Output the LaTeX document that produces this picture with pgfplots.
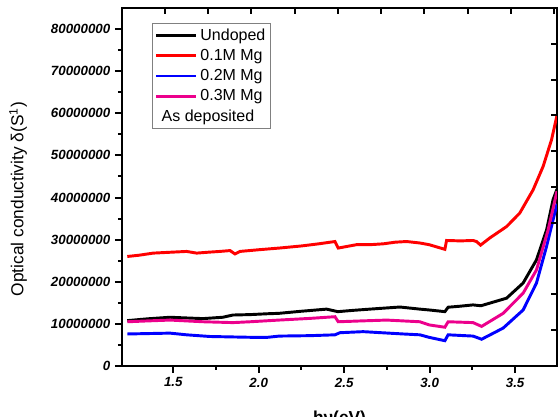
\documentclass[border=0pt]{standalone}
\usepackage{fontspec}
\setmainfont{Liberation Sans}
\usepackage{pgfplots}
\pgfplotsset{compat=1.18}

\pgfplotstableread{
x y
1.231 2.60e7
1.300 2.63e7
1.383 2.68e7
1.480 2.70e7
1.578 2.72e7
1.637 2.68e7
1.700 2.70e7
1.773 2.72e7
1.832 2.74e7
1.861 2.66e7
1.890 2.72e7
2.000 2.76e7
2.120 2.80e7
2.250 2.85e7
2.350 2.90e7
2.446 2.955e7
2.465 2.80e7
2.572 2.88e7
2.650 2.88e7
2.728 2.90e7
2.800 2.94e7
2.865 2.955e7
2.943 2.92e7
2.997 2.88e7
3.089 2.77e7
3.099 2.98e7
3.180 2.97e7
3.254 2.98e7
3.274 2.955e7
3.298 2.87e7
3.352 3.04e7
3.450 3.31e7
3.527 3.63e7
3.605 4.18e7
3.664 4.74e7
3.713 5.37e7
3.745 5.95e7
}\redtab

\pgfplotstableread{
x y
1.231 1.077e7
1.350 1.12e7
1.481 1.157e7
1.580 1.14e7
1.674 1.125e7
1.790 1.157e7
1.849 1.21e7
1.950 1.22e7
2.050 1.24e7
2.118 1.25e7
2.250 1.30e7
2.397 1.35e7
2.463 1.29e7
2.550 1.32e7
2.650 1.35e7
2.826 1.40e7
2.943 1.35e7
2.997 1.33e7
3.089 1.29e7
3.108 1.395e7
3.180 1.42e7
3.254 1.45e7
3.300 1.43e7
3.450 1.61e7
3.547 1.97e7
3.625 2.52e7
3.684 3.23e7
3.722 3.95e7
3.745 4.20e7
}\blacktab

\pgfplotstableread{
x y
1.231 1.05e7
1.350 1.07e7
1.481 1.09e7
1.674 1.05e7
1.849 1.03e7
1.950 1.05e7
2.118 1.09e7
2.300 1.13e7
2.446 1.17e7
2.465 1.05e7
2.600 1.07e7
2.748 1.09e7
2.943 1.05e7
2.997 0.975e7
3.089 0.92e7
3.108 1.05e7
3.254 1.03e7
3.304 0.94e7
3.430 1.25e7
3.547 1.73e7
3.625 2.28e7
3.693 3.23e7
3.745 4.15e7
}\magtab

\pgfplotstableread{
x y
1.231 0.76e7
1.481 0.78e7
1.578 0.74e7
1.715 0.70e7
1.966 0.68e7
2.050 0.68e7
2.120 0.71e7
2.300 0.72e7
2.446 0.74e7
2.475 0.79e7
2.611 0.815e7
2.845 0.76e7
2.943 0.74e7
2.997 0.68e7
3.089 0.60e7
3.108 0.74e7
3.254 0.71e7
3.304 0.635e7
3.430 0.90e7
3.547 1.33e7
3.625 1.97e7
3.684 2.84e7
3.745 3.85e7
}\bluetab

\begin{document}
\begin{tikzpicture}
\begin{axis}[
  width=326.25pt, height=268.5pt, scale only axis,
  xmin=1.2, xmax=3.745, ymin=0, ymax=85000000,
  xtick={1.5,2.0,2.5,3.0,3.5}, minor x tick num=1,
  ytick={0,10000000,20000000,30000000,40000000,50000000,60000000,70000000,80000000},
  minor y tick num=1,
  xtick pos=bottom, ytick pos=left, tick align=outside,
  major tick length=5.25pt, minor tick length=3pt,
  every tick/.style={black, line width=1.5pt},
  axis line style={line width=2pt},
  scaled y ticks=false, scaled x ticks=false,
  tick label style={font=\fontsize{10}{12}\selectfont\bfseries\itshape},
  /pgf/number format/assume math mode=true,
  yticklabel style={/pgf/number format/fixed, /pgf/number format/precision=0, /pgf/number format/1000 sep={}},
  xticklabel style={/pgf/number format/fixed, /pgf/number format/fixed zerofill, /pgf/number format/precision=1},
  ylabel={Optical conductivity δ(S\textsuperscript{1})},
  ylabel style={font=\fontsize{13}{15}\selectfont, at={(axis description cs:-0.239,0.466)}, anchor=center},
  xlabel={hν(eV)},
  xlabel style={font=\fontsize{13}{15}\selectfont\bfseries, at={(axis description cs:0.5,-0.112)}, anchor=north},
  legend style={at={(axis description cs:0.069,0.958)}, anchor=north west, draw=gray, line width=0.6pt,
    font=\fontsize{12}{14}\selectfont, cells={anchor=west}, row sep=1.3pt, inner sep=1.8pt},
  legend image code/.code={\draw[#1, line width=2.2pt] (0pt,0pt) -- (30pt,0pt);},
]
\coordinate (sw) at (rel axis cs:0,0);
\coordinate (ne) at (rel axis cs:1,1);
\addplot[black, line width=2.2pt] table[x=x, y=y] {\blacktab};
\addlegendentry{Undoped}
\addplot[red, line width=2.2pt] table[x=x, y=y] {\redtab};
\addlegendentry{0.1M Mg}
\addplot[blue, line width=2.2pt] table[x=x, y=y] {\bluetab};
\addlegendentry{0.2M Mg}
\addplot[magenta, line width=2.2pt] table[x=x, y=y] {\magtab};
\addlegendentry{0.3M Mg}
\addlegendimage{empty legend}
\addlegendentry{\hspace*{-29pt}As deposited}
\end{axis}
% top and right ticks pointing inward
\begin{axis}[
  width=326.25pt, height=268.5pt, scale only axis,
  xmin=1.2, xmax=3.745, ymin=0, ymax=85000000,
  axis line style={draw=none},
  scaled y ticks=false, scaled x ticks=false,
  xtick={1.451,1.704,1.957,2.210,2.463,2.716,2.969,3.222,3.475,3.728},
  ytick={8570000,17060000,25550000,34040000,42530000,51020000,59510000,68000000,76490000},
  xtick pos=top, ytick pos=right, tick align=inside,
  major tick length=4.5pt,
  every tick/.style={black, line width=1.5pt},
  xticklabels={}, yticklabels={},
]
\end{axis}
\pgfresetboundingbox
\path[use as bounding box] ([shift={(-91.5pt,-38.25pt)}]sw) rectangle ([shift={(0.75pt,6pt)}]ne);
\end{tikzpicture}
\end{document}
